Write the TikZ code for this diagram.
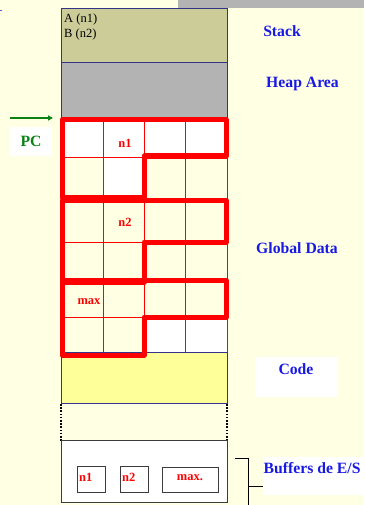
\documentclass[tikz,border=0pt]{standalone}
\usepackage{fontspec}
\setmainfont{Liberation Serif}
\usetikzlibrary{arrows.meta}
\definecolor{bgc}{RGB}{255,255,228}
\definecolor{barc}{RGB}{179,179,179}
\definecolor{stackc}{RGB}{204,204,153}
\definecolor{heapc}{RGB}{179,179,179}
\definecolor{codec}{RGB}{255,255,153}
\definecolor{navyc}{RGB}{51,51,140}
\definecolor{lblue}{RGB}{25,25,230}
\definecolor{pcgreen}{RGB}{10,130,20}
\definecolor{redc}{RGB}{255,0,0}
\definecolor{boxgray}{RGB}{60,60,60}
\tikzset{
  memb/.style={draw=navyc, line width=0.9pt},
  thinred/.style={draw=redc, line width=0.9pt},
  thickred/.style={draw=redc, line width=5pt, line join=round},
  seglabel/.style={font=\fontsize{15.7}{18}\selectfont\bfseries, text=lblue, inner sep=0pt},
  celllabel/.style={font=\fontsize{12.5}{14}\selectfont\bfseries, text=redc, inner sep=0pt},
  stacktext/.style={font=\fontsize{12.5}{14}\selectfont, text=black, inner sep=0pt, anchor=west},
  bufbox/.style={draw=boxgray, line width=0.9pt, fill=white},
  dotline/.style={draw=black, line width=1.8pt, dash pattern=on 1.6pt off 1.6pt},
  brack/.style={draw=black, line width=0.9pt}
}
\begin{document}
\begin{tikzpicture}[x=1pt,y=-1pt]
\useasboundingbox (0,0) rectangle (364,505);
\fill[bgc] (0,0) rectangle (364,505);
\fill[barc] (178,0) rectangle (364,8);
% tiny fragment at left edge
\draw[lblue!70, line width=1pt] (0,11) -- (2,11);
% stack and heap
\draw[memb, fill=stackc] (61,8) rectangle (227,62);
\draw[memb, fill=heapc] (61,62) rectangle (227,117);
\node[stacktext] (sa) at (64,19) {A (n1)};
\node[stacktext] (sb) at (64,34) {B (n2)};
% white cells
\fill[white] (61,120) rectangle (227,157);
\fill[white] (103,157) rectangle (144,199);
\fill[white] (144,317) rectangle (227,353);
% code
\draw[memb, fill=codec] (61,352) rectangle (227,403);
% thin grid
\foreach \x in {103,144,185} \draw[thinred] (\x,120) -- (\x,352);
\foreach \y in {157,199,242,281,317} \draw[thinred] (61,\y) -- (227,\y);
\draw[thinred] (227,120) -- (227,352);
% thick outlines
\draw[thickred] (62,120) -- (226,120) -- (226,156) -- (144,156) -- (144,197) -- (62,197) -- cycle;
\draw[thickred] (62,200) -- (226,200) -- (226,242) -- (144,242) -- (144,282) -- (62,282) -- cycle;
\draw[thickred] (62,280) -- (226,280) -- (226,317) -- (144,317) -- (144,355) -- (62,355) -- cycle;
% cell labels
\node[celllabel] (ln1) at (125,143) {n1};
\node[celllabel] (ln2) at (125,222) {n2};
\node[celllabel] (lmax) at (89,302) {max};
% dotted gap
\draw[dotline] (61,404) -- (61,441);
\draw[dotline] (227,404) -- (227,441);
% buffer box
\draw[bufbox] (61,440) rectangle (227,502);
\draw[bufbox] (77,466) rectangle (105,492);
\draw[bufbox] (120,466) rectangle (148,492);
\draw[bufbox] (162,467) rectangle (218,492);
\node[celllabel, anchor=west] (bn1) at (79,477) {n1};
\node[celllabel, anchor=west] (bn2) at (122,477) {n2};
\node[celllabel] (bmax) at (190,478) {max.};
% bracket
\draw[brack] (235,458) -- (248,458) -- (248,505);
\draw[brack] (248,486) -- (263,486);
% segment labels
\node[seglabel] (lstack) at (282,31) {Stack};
\node[seglabel] (lheap) at (302.5,84) {Heap Area};
\node[seglabel] (lglob) at (297,248) {Global Data};
\fill[white] (255,357) rectangle (338,397);
\node[seglabel] (lcode) at (296,369) {Code};
\fill[white] (263,457) rectangle (364,495);
\node[seglabel, anchor=west] (lbuf) at (263.5,468) {Buffers de E/S};
% PC
\fill[white] (10,127) rectangle (52,156);
\node[seglabel, text=pcgreen] (lpc) at (31,141) {PC};
\coordinate (pcs) at (10,118);
\coordinate (pce) at (53,118);
\draw[pcgreen, line width=1.4pt, -{Triangle[length=5pt,width=5pt]}] (pcs) -- (pce);
\end{tikzpicture}
\end{document}
